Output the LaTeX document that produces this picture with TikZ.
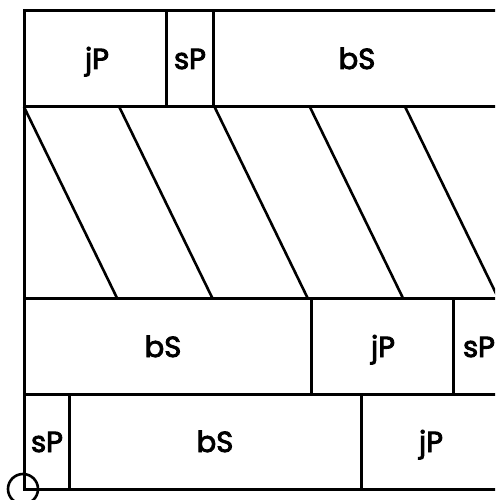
\documentclass[tikz,border=0pt]{standalone}
\usepackage{fontspec}
\setmainfont{Poppins}
\newfontfamily\labfont{Poppins}[FakeBold=3]
\begin{document}
\begin{tikzpicture}[x=1pt,y=-1pt,
  wall/.style={line width=3pt,line cap=rect},
  lab/.style={anchor=base,inner sep=0pt,font=\fontsize{29}{30}\labfont}]
\useasboundingbox (0,0) rectangle (495,500);
\begin{scope}
\clip (0,0) rectangle (495,500);
% horizontal lines
\draw[wall] (24,11) -- (500,11);
\draw[wall] (24,107) -- (500,107);
\draw[wall] (24,298) -- (500,298);
\draw[wall] (24,394) -- (500,394);
\draw[wall] (24,489) -- (500,489);
% left side
\draw[wall] (24,11) -- (24,489);
% row 1 dividers
\draw[wall] (166,11) -- (166,107);
\draw[wall] (213,11) -- (213,107);
% row 3 dividers
\draw[wall] (311,298) -- (311,394);
\draw[wall] (453,298) -- (453,394);
% row 4 dividers
\draw[wall] (69,394) -- (69,489);
\draw[wall] (361,394) -- (361,489);
% diagonal hatching
\foreach \s in {0,1,2,3,4}{
  \draw[line width=2.6pt] ({24+95.3*\s},107) -- ({117+95.3*\s},298);
}
\end{scope}
% labels
\node[lab] (r1a) at (97,69) {jP};
\node[lab] (r1b) at (190,69) {sP};
\node[lab] (r1c) at (357,69) {bS};
\node[lab] (r3a) at (163,357) {bS};
\node[lab] (r3b) at (383,357) {jP};
\node[lab] (r3c) at (479,357) {sP};
\node[lab] (r4a) at (47,452) {sP};
\node[lab] (r4b) at (215,452) {bS};
\node[lab] (r4c) at (431,452) {jP};
% origin marker
\draw[line width=2.6pt] (23,489) circle[radius=15];
\end{tikzpicture}
\end{document}
